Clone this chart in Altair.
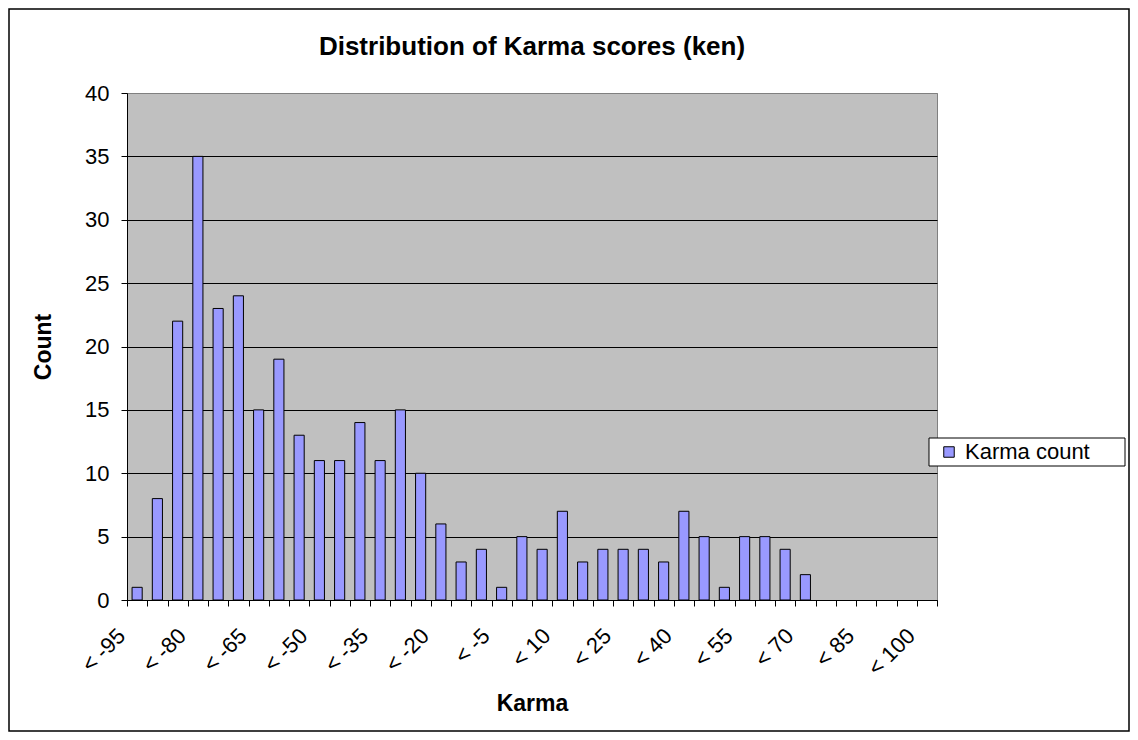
import altair as alt
import pandas as pd

# ---- data ----
categories = [
    "< -95", "< -90", "< -85", "< -80", "< -75", "< -70", "< -65", "< -60",
    "< -55", "< -50", "< -45", "< -40", "< -35", "< -30", "< -25", "< -20",
    "< -15", "< -10", "< -5", "< 0", "< 5", "< 10", "< 15", "< 20",
    "< 25", "< 30", "< 35", "< 40", "< 45", "< 50", "< 55", "< 60",
    "< 65", "< 70", "< 75", "< 80", "< 85", "< 90", "< 95", "< 100",
]
counts = [
    1, 8, 22, 35, 23, 24, 15, 19,
    13, 11, 11, 14, 11, 15, 10, 6,
    3, 4, 1, 5, 4, 7, 3, 4,
    4, 4, 3, 7, 5, 1, 5, 5,
    4, 2, 0, 0, 0, 0, 0, 0,
]
shown_labels = ["< -95", "< -80", "< -65", "< -50", "< -35", "< -20", "< -5",
                "< 10", "< 25", "< 40", "< 55", "< 70", "< 85", "< 100"]
y_ticks = [0, 5, 10, 15, 20, 25, 30, 35, 40]
series_name = "Karma count"

df = pd.DataFrame({"Karma": categories, "Count": counts, "series": series_name})

FONT = "Liberation Sans"
PLOT_W, PLOT_H = 810, 507

label_list = "[" + ",".join("'" + s + "'" for s in shown_labels) + "]"

bars = alt.Chart(df).transform_filter(
    "datum.Count > 0"
).mark_bar(
    width=alt.RelativeBandSize(0.5), stroke="black", strokeWidth=1
).encode(
    x=alt.X(
        "Karma:N",
        sort=categories,
        scale=alt.Scale(domain=categories, paddingInner=0, paddingOuter=0),
        axis=alt.Axis(
            title="Karma",
            titleFont=FONT, titleFontSize=23, titleFontWeight="bold", titleColor="black",
            titleX=PLOT_W / 2, titleY=103, titleBaseline="middle", titleAlign="center",
            labelExpr=f"indexof({label_list}, datum.value) >= 0 ? datum.value : ''",
            labelAngle=-45, labelAlign="right", labelBaseline="middle",
            labelOffset=-16, labelPadding=26,
            labelFont=FONT, labelFontSize=22, labelColor="black",
            labelOverlap=False, labelBound=False, labelFlush=False,
            tickBand="extent", tickSize=6, tickColor="black", tickWidth=1,
            domainColor="black", domainWidth=1, grid=False,
        ),
    ),
    y=alt.Y(
        "Count:Q",
        scale=alt.Scale(domain=[0, 40], nice=False, zero=True),
        axis=alt.Axis(
            title="Count",
            titleFont=FONT, titleFontSize=23, titleFontWeight="bold", titleColor="black",
            titleX=-84, titleY=PLOT_H / 2, titleAngle=-90, titleBaseline="middle", titleAlign="center",
            values=y_ticks,
            labelFont=FONT, labelFontSize=22, labelColor="black", labelPadding=12,
            tickSize=6, tickColor="black", tickWidth=1,
            domainColor="black", domainWidth=1,
            grid=True,
            gridColor=alt.condition("datum.value == 40", alt.value("#808080"), alt.value("black")),
            gridWidth=1, gridOpacity=1,
        ),
    ),
    color=alt.Color(
        "series:N",
        scale=alt.Scale(domain=[series_name], range=["#9999FF"]),
        legend=alt.Legend(
            title=None, orient="none", legendX=808, legendY=345,
            padding=3, cornerRadius=0,
            symbolType="square", symbolSize=110, symbolStrokeColor="black",
            symbolStrokeWidth=1, symbolOpacity=1,
            labelFont=FONT, labelFontSize=22, labelColor="black", labelOffset=5,
        ),
    ),
)

frame = alt.Chart(pd.DataFrame({"f": [0]})).mark_rect(
    fill=None, stroke="black", strokeWidth=1.5
).encode(
    x=alt.value(-118), x2=alt.value(1002), y=alt.value(-84), y2=alt.value(638)
)

legend_box = alt.Chart(pd.DataFrame({"f": [0]})).mark_rect(
    fill="white", stroke="black", strokeWidth=1
).encode(
    x=alt.value(802), x2=alt.value(998), y=alt.value(345), y2=alt.value(373)
)

chart = alt.layer(frame, legend_box, bars).properties(
    width=PLOT_W,
    height=PLOT_H,
    title=alt.TitleParams(
        text="Distribution of Karma scores (ken)",
        font=FONT, fontSize=26, fontWeight="bold", color="black",
        anchor="middle", frame="group", baseline="alphabetic", offset=-73,
    ),
    autosize=alt.AutoSizeParams(type="none"),
    padding={"left": 119, "top": 85, "right": 193, "bottom": 132},
    background="white",
).configure_view(
    fill="#C0C0C0", stroke="#808080", strokeWidth=1
)

chart.save("out.html", embed_options={"renderer": "svg", "actions": False})
